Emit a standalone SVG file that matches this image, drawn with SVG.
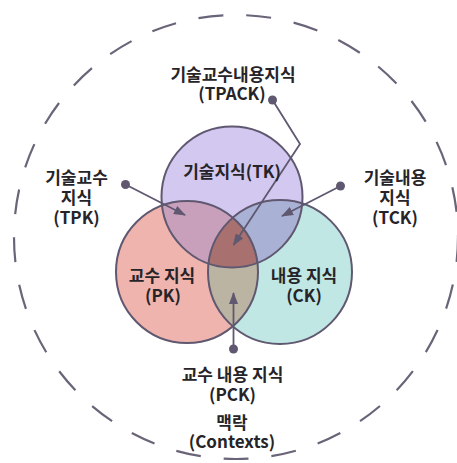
<svg xmlns="http://www.w3.org/2000/svg" width="457" height="463" viewBox="0 0 457 463">
<style>
text{font-family:"Noto Sans CJK KR","Noto Sans",sans-serif;font-size:17px;font-weight:bold;fill:#262428;text-anchor:middle}
.ring{fill:none;stroke:#5f5870;stroke-width:2}
.conn{fill:none;stroke:#5f5870;stroke-width:1.8}
.dot{fill:#5f5870}
</style>
<defs>
<clipPath id="cTK"><circle cx="232" cy="197" r="70.5"/></clipPath>
<clipPath id="cPK"><circle cx="187" cy="272" r="71"/></clipPath>
<marker id="ah" viewBox="0 0 12 9" refX="11" refY="4.5" markerWidth="12" markerHeight="9" markerUnits="userSpaceOnUse" orient="auto">
<path d="M0,0 L12,4.5 L0,9 Z" fill="#5f5870"/>
</marker>
</defs>
<rect width="457" height="463" fill="#fff"/>
<g id="context">
<circle cx="236" cy="237" r="222" fill="none" stroke="#6a6478" stroke-width="2.2" stroke-dasharray="25 23"/>
<text x="232" y="429">맥락</text>
<text x="232" y="448">(Contexts)</text>
</g>
<g id="tk">
<circle cx="232" cy="197" r="70.5" fill="#d3c8ef"/>
</g>
<g id="pk">
<circle cx="187" cy="272" r="71" fill="#efb4ae"/>
</g>
<g id="ck">
<circle cx="280" cy="272" r="72" fill="#c0e7e3"/>
</g>
<g id="tpk-region"><circle cx="187" cy="272" r="71" fill="#c9a0bc" clip-path="url(#cTK)"/></g>
<g id="tck-region"><circle cx="280" cy="272" r="72" fill="#a9b2d5" clip-path="url(#cTK)"/></g>
<g id="pck-region"><circle cx="280" cy="272" r="72" fill="#bbb4a3" clip-path="url(#cPK)"/></g>
<g id="tpack-region"><g clip-path="url(#cPK)"><circle cx="280" cy="272" r="72" fill="#a8716f" clip-path="url(#cTK)"/></g></g>
<g id="outlines">
<circle class="ring" cx="232" cy="197" r="70.5"/>
<circle class="ring" cx="187" cy="272" r="71"/>
<circle class="ring" cx="280" cy="272" r="72"/>
</g>
<g id="connectors">
<polyline class="conn" points="272.5,100 300,144 233.5,245" marker-end="url(#ah)"/>
<line class="conn" x1="125.5" y1="184.5" x2="185" y2="215" marker-end="url(#ah)"/>
<line class="conn" x1="340.5" y1="186" x2="282" y2="216" marker-end="url(#ah)"/>
<line class="conn" x1="233.5" y1="349" x2="233.5" y2="293" marker-end="url(#ah)"/>
<circle class="dot" cx="272.5" cy="100" r="4.5"/>
<circle class="dot" cx="125.5" cy="184.5" r="4.5"/>
<circle class="dot" cx="340.5" cy="186" r="4.5"/>
<circle class="dot" cx="233.5" cy="349" r="4.5"/>
</g>
<g id="label-tk"><text x="232" y="178">기술지식(TK)</text></g>
<g id="label-pk"><text x="162" y="282">교수 지식</text><text x="163" y="302">(PK)</text></g>
<g id="label-ck"><text x="304" y="282">내용 지식</text><text x="304" y="302">(CK)</text></g>
<g id="label-tpack"><text x="233" y="81">기술교수내용지식</text><text x="232" y="100">(TPACK)</text></g>
<g id="label-tpk"><text x="76.5" y="184">기술교수</text><text x="76.5" y="204">지식</text><text x="76.5" y="224">(TPK)</text></g>
<g id="label-tck"><text x="395" y="184">기술내용</text><text x="395" y="204">지식</text><text x="395" y="224">(TCK)</text></g>
<g id="label-pck"><text x="232.5" y="381">교수 내용 지식</text><text x="232.5" y="401">(PCK)</text></g>
</svg>
